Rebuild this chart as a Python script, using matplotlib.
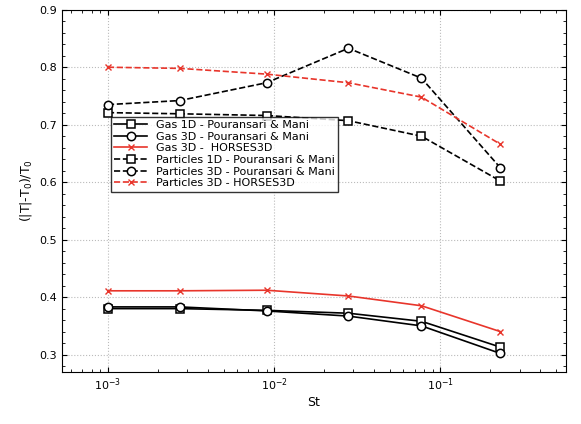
import matplotlib
matplotlib.use("Agg")
import matplotlib.pyplot as plt
from matplotlib.ticker import AutoMinorLocator

St = [1e-3, 2.7e-3, 9e-3, 2.8e-2, 7.7e-2, 2.3e-1]
gas1d = [0.380, 0.380, 0.377, 0.372, 0.358, 0.313]
gas3d = [0.383, 0.383, 0.376, 0.367, 0.350, 0.302]
gash = [0.411, 0.411, 0.412, 0.402, 0.385, 0.340]
par1d = [0.721, 0.719, 0.716, 0.707, 0.680, 0.602]
par3d = [0.735, 0.742, 0.773, 0.833, 0.781, 0.625]
parh = [0.800, 0.798, 0.788, 0.773, 0.748, 0.666]

fig = plt.figure(figsize=(5.81, 4.24), dpi=100)
ax = fig.add_axes([0.107, 0.123, 0.867, 0.854])
mk = dict(markersize=6, markerfacecolor='white', markeredgewidth=1.1, linewidth=1.2)
ax.plot(St, gas1d, 'k-s', label='Gas 1D - Pouransari & Mani', **mk)
ax.plot(St, gas3d, 'k-o', label='Gas 3D - Pouransari & Mani', **mk)
ax.plot(St, gash, '-x', color='#e8352b', label='Gas 3D -  HORSES3D', markersize=4, linewidth=1.2)
ax.plot(St, par1d, 'k--s', label='Particles 1D - Pouransari & Mani', **mk)
ax.plot(St, par3d, 'k--o', label='Particles 3D - Pouransari & Mani', **mk)
ax.plot(St, parh, '--x', color='#e8352b', label='Particles 3D - HORSES3D', markersize=4, linewidth=1.2)
ax.set_xscale('log')
ax.set_xlim(5.3e-4, 0.57)
ax.set_ylim(0.27, 0.9)
ax.yaxis.set_minor_locator(AutoMinorLocator(5))
ax.grid(True, which='major', linestyle=':', color='#bbbbbb')
ax.tick_params(direction='in', which='both', top=True, right=True, labelsize=8)
ax.set_xlabel('St', fontsize=9, labelpad=2)
ax.set_ylabel(r'(|T|-T$_0$)/T$_0$', fontsize=9)
ax.legend(loc='upper left', bbox_to_anchor=(0.085, 0.72), fontsize=8, frameon=True,
          fancybox=False, edgecolor='black', handlelength=3, borderpad=0.3, labelspacing=0.15)
fig.savefig('out.png')
